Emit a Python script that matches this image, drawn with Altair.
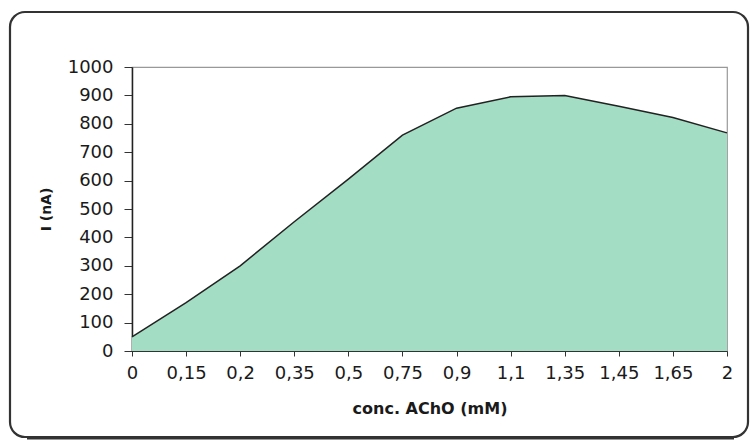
import altair as alt
import pandas as pd

# Data
conc = ["0", "0,15", "0,2", "0,35", "0,5", "0,75", "0,9", "1,1", "1,35", "1,45", "1,65", "2"]
current = [50, 170, 300, 455, 605, 760, 855, 895, 900, 862, 822, 768]
y_ticks = [0, 100, 200, 300, 400, 500, 600, 700, 800, 900, 1000]

df = pd.DataFrame({"conc": conc, "I": current})
frame_df = pd.DataFrame({"f": [0]})

W, H = 595, 284
FONT = "DejaVu Sans"

area = alt.Chart(df).mark_area(
    color="#a3ddc4",
    opacity=1,
    line={"color": "#222", "strokeWidth": 1.5},
).encode(
    x=alt.X(
        "conc:O",
        sort=conc,
        scale=alt.Scale(type="point", padding=0),
        axis=alt.Axis(
            title="conc. AChO (mM)",
            labelAngle=0,
            labelFont=FONT,
            labelFontSize=18,
            labelColor="#1a1a1a",
            labelPadding=8,
            labelOverlap=False,
            labelBound=False,
            tickSize=5,
            tickColor="#333",
            domainColor="#333",
            domainWidth=1.2,
            titleFont=FONT,
            titleFontSize=16,
            titleFontWeight="bold",
            titleColor="#1a1a1a",
            titleY=62,
            titleBaseline="alphabetic",
        ),
    ),
    y=alt.Y(
        "I:Q",
        scale=alt.Scale(domain=[0, 1000], nice=False),
        axis=alt.Axis(
            values=y_ticks,
            format="d",
            grid=False,
            title="I (nA)",
            labelFont=FONT,
            labelFontSize=18,
            labelColor="#1a1a1a",
            labelPadding=11,
            labelOverlap=False,
            tickSize=8,
            tickColor="#333",
            domainColor="#222",
            domainWidth=1.5,
            titleFont=FONT,
            titleFontSize=14,
            titleFontWeight="bold",
            titleColor="#1a1a1a",
            titleX=-86,
            titleBaseline="middle",
        ),
    ),
)

frame = alt.Chart(frame_df).mark_rect(
    cornerRadius=15,
    fillOpacity=0,
    stroke="#333",
    strokeWidth=2.2,
).encode(
    x=alt.value(-122),
    x2=alt.value(616),
    y=alt.value(-55),
    y2=alt.value(370),
)

frame_shadow = alt.Chart(frame_df).mark_rule(
    color="#333",
    strokeWidth=3,
).encode(
    x=alt.value(-105),
    x2=alt.value(602),
    y=alt.value(371),
)

chart = alt.layer(area, frame, frame_shadow).properties(
    width=W,
    height=H,
    padding={"left": 132, "top": 67, "right": 25, "bottom": 90},
    autosize=alt.AutoSizeParams(type="none"),
    background="white",
).configure_view(
    stroke="#999",
    strokeWidth=1.2,
)

chart.save("out.html", embed_options={"renderer": "svg", "actions": False})
